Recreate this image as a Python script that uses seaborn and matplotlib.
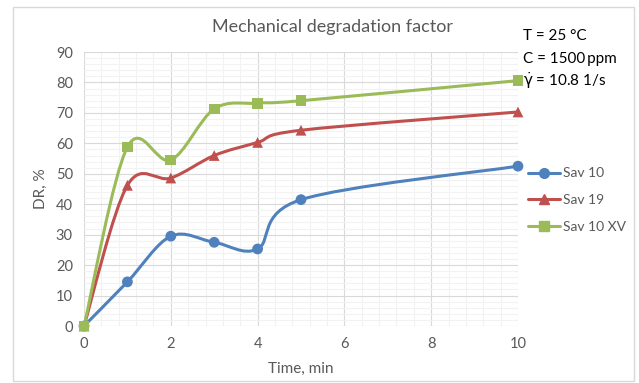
import numpy as np
import pandas as pd
import matplotlib
matplotlib.use("Agg")
import matplotlib.pyplot as plt
import seaborn as sns
from matplotlib.path import Path
from matplotlib.patches import PathPatch, Rectangle
from matplotlib.lines import Line2D
from matplotlib.ticker import MultipleLocator

# Drag reduction over time for three polymer samples
time_min = [0, 1, 2, 3, 4, 5, 10]
sav10 = [0, 14.5, 29.5, 27.5, 25.3, 41.5, 52.5]
sav19 = [0, 46.2, 48.6, 56.0, 60.3, 64.3, 70.3]
sav10xv = [0, 58.8, 54.5, 71.3, 73.2, 74.0, 80.6]

series_names = ["Sav 10", "Sav 19", "Sav 10 XV"]
series_values = [sav10, sav19, sav10xv]
colors = ["#4F81BD", "#C0504D", "#9BBB59"]
markers = ["o", "^", "s"]

conditions = ["T = 25 \u00b0C", "C = 1500\u2009ppm", r"$\dot{\gamma}$ = 10.8 1/s"]

df = pd.DataFrame({"Time": time_min * 3,
                   "DR": sav10 + sav19 + sav10xv,
                   "Series": np.repeat(series_names, len(time_min))})

sns.set_theme(style="white")
plt.rcParams["font.family"] = ["Lato", "DejaVu Sans"]
plt.rcParams["mathtext.fontset"] = "custom"
plt.rcParams["mathtext.rm"] = "DejaVu Sans"
plt.rcParams["mathtext.it"] = "DejaVu Sans"

fig = plt.figure(figsize=(6.39, 3.83), dpi=100)
ax = fig.add_axes([84 / 639, 1 - 326 / 383, (518 - 84) / 639, (326 - 52) / 383])

# outer chart frame
fig.patches.append(Rectangle((12.5 / 639, 2 / 383), (634 - 12.5) / 639, (376 - 2) / 383,
                             transform=fig.transFigure, fill=False,
                             edgecolor="#D9D9D9", linewidth=1.0))

ax.set_xlim(0, 10)
ax.set_ylim(0, 90)
ax.xaxis.set_major_locator(MultipleLocator(2))
ax.yaxis.set_major_locator(MultipleLocator(10))
ax.xaxis.set_minor_locator(MultipleLocator(0.4))
ax.yaxis.set_minor_locator(MultipleLocator(2))
ax.grid(which="major", color="#D9D9D9", linewidth=0.8)
ax.grid(which="minor", color="#F2F2F2", linewidth=0.8)
ax.set_axisbelow(True)
for s in ax.spines.values():
    s.set_visible(False)
ax.tick_params(which="both", length=0, labelsize=10.5, colors="#595959", pad=8)


def smooth_path(x, y, ax):
    """Bezier path through the points, with Excel-style smoothing done in display space."""
    pts = ax.transData.transform(np.column_stack([x, y]))
    n = len(pts)
    verts = [pts[0]]
    codes = [Path.MOVETO]
    for i in range(n - 1):
        p0 = pts[i - 1] if i > 0 else pts[i]
        p1 = pts[i]
        p2 = pts[i + 1]
        p3 = pts[i + 2] if i + 2 < n else pts[i + 1]
        c1 = p1 + (p2 - p0) / 6.0
        c2 = p2 - (p3 - p1) / 6.0
        verts += [c1, c2, p2]
        codes += [Path.CURVE4] * 3
    verts = ax.transData.inverted().transform(np.array(verts))
    return Path(verts, codes)


for name, vals, col in zip(series_names, series_values, colors):
    ax.add_patch(PathPatch(smooth_path(time_min, vals, ax), facecolor="none",
                           edgecolor=col, linewidth=2.2, zorder=3, capstyle="round",
                           joinstyle="round"))

sns.scatterplot(data=df, x="Time", y="DR", hue="Series", style="Series",
                palette=dict(zip(series_names, colors)),
                markers=dict(zip(series_names, markers)),
                s=60, linewidth=0, ax=ax, zorder=4, legend=False, clip_on=False)

ax.set_xlabel("Time, min", fontsize=11, color="#595959", labelpad=8)
ax.set_ylabel("DR, %", fontsize=11, color="#595959", labelpad=6)
fig.text(333 / 639, 1 - 27 / 383, "Mechanical degradation factor",
         ha="center", va="center", fontsize=13, color="#595959")

for i, t in enumerate(conditions):
    fig.text(523 / 639, 1 - (36 + i * 22.5) / 383, t, ha="left", va="center",
             fontsize=11, color="black", zorder=5)

handles = [Line2D([0], [0], color=c, marker=m, markersize=7, linewidth=2.2)
           for c, m in zip(colors, markers)]
leg = ax.legend(handles, series_names, loc="center left",
                bbox_to_anchor=(528 / 639, 1 - 200 / 383), bbox_transform=fig.transFigure,
                frameon=False, fontsize=10, handlelength=2.3, handletextpad=0.2,
                labelspacing=1.05, borderaxespad=0, borderpad=0)
for t in leg.get_texts():
    t.set_color("#595959")

fig.savefig("out.png", dpi=100)
